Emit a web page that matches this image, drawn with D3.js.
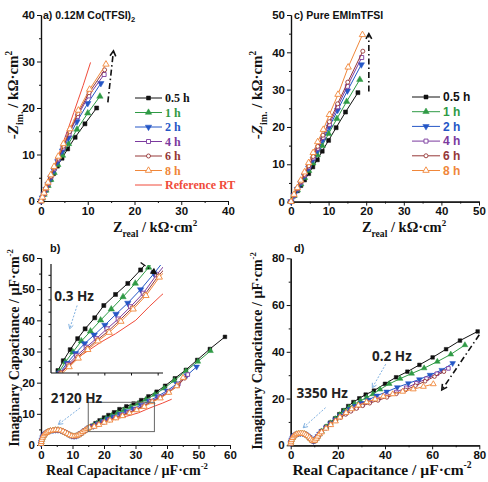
<!DOCTYPE html>
<html>
<head>
<meta charset="utf-8">
<script src="https://cdn.jsdelivr.net/npm/d3@7"></script>
<style>body{margin:0;background:#fff}</style>
</head>
<body>
<script>
const W = 488, H = 482;
const SANS = "'Liberation Sans', Arial, sans-serif";
const SERIF = "'Liberation Serif', 'Times New Roman', serif";

const seriesNames = ["0.5 h", "1 h", "2 h", "4 h", "6 h", "8 h"];
const seriesColors = ["#111111", "#2f9a45", "#2557c6", "#7b3a9e", "#963838", "#f0873a"];
const seriesKinds = ["square", "tri", "tridown", "osquare", "ocircle", "otri"];
const refName = "Reference RT";
const refColor = "#f04b3a";

// a) 0.12M Co(TFSI)2, Nyquist, kOhm cm2
const a_05h = [[0,0],[0.3,0.6],[0.65,1.5],[1.05,2.4],[1.5,3.4],[2.05,4.6],[2.7,5.9],[3.5,7.5],[4.5,9.2],[5.7,11.2],[7.3,13.7],[9.4,16.6],[11.9,20.0]];
const a_1h = [[0,0],[0.3,0.6],[0.65,1.4],[1.05,2.3],[1.5,3.3],[2.1,4.6],[2.8,6.1],[3.6,7.8],[4.6,9.8],[5.9,12.3],[7.7,15.4],[10,18.9],[12.6,22.5]];
const a_2h = [[0,0],[0.3,0.7],[0.65,1.5],[1.05,2.5],[1.5,3.6],[2.1,5],[2.8,6.6],[3.6,8.5],[4.6,10.8],[5.9,13.6],[7.7,17.1],[10,21],[12.8,25.3]];
const a_4h = [[0,0],[0.3,0.7],[0.65,1.6],[1.05,2.6],[1.5,3.7],[2.1,5.2],[2.8,6.9],[3.6,8.9],[4.7,11.4],[6,14.4],[7.8,18.2],[10.2,22.6],[13.5,27.2]];
const a_6h = [[0,0],[0.3,0.7],[0.65,1.6],[1.05,2.7],[1.5,3.8],[2.1,5.3],[2.8,7.1],[3.7,9.2],[4.8,11.8],[6.1,14.9],[7.9,18.8],[10.3,23.3],[13.6,28.2]];
const a_8h = [[0,0],[0.3,0.8],[0.65,1.7],[1.05,2.8],[1.5,4],[2.1,5.6],[2.8,7.4],[3.7,9.6],[4.8,12.3],[6.2,15.5],[8,19.5],[10.4,24],[13.9,29.4]];
const a_ref = [[0,0],[1,2.4],[2,5],[3,7.7],[4,10.5],[5,13.3],[6,16.1],[7,19],[8,21.9],[9,24.8],[10.6,29.8]];

// c) Pure EMImTFSI
const c_05h = [[0,0],[0.8,1.5],[1.7,2.9],[2.6,4.3],[3.6,5.8],[4.7,7.5],[5.8,9.3],[7,11.2],[8.3,13.5],[10,16.4],[12,19.8],[14.5,24],[17.8,29.2]];
const c_1h = [[0,0],[0.8,1.6],[1.7,3.1],[2.6,4.7],[3.6,6.4],[4.7,8.3],[5.8,10.3],[7,12.5],[8.3,15],[10,18.2],[12.2,22.2],[14.8,26.8],[18.3,32.7]];
const c_2h = [[0,0],[0.8,1.7],[1.7,3.3],[2.6,5],[3.6,6.9],[4.7,9],[5.9,11.3],[7.1,13.8],[8.5,16.6],[10.2,20],[12.4,24.5],[15,29.7],[18.7,36.7]];
const c_4h = [[0,0],[0.8,1.7],[1.7,3.4],[2.6,5.2],[3.6,7.1],[4.7,9.3],[5.9,11.7],[7.1,14.3],[8.5,17.2],[10.2,20.7],[12.4,25.4],[15,30.9],[18.8,38.6]];
const c_6h = [[0,0],[0.8,1.8],[1.7,3.5],[2.6,5.3],[3.6,7.3],[4.7,9.6],[5.9,12.1],[7.1,14.8],[8.5,17.8],[10.2,21.4],[12.4,26.2],[15.1,32],[19.1,40.3]];
const c_8h = [[0,0],[0.8,1.9],[1.7,3.7],[2.6,5.7],[3.6,7.9],[4.7,10.4],[5.9,13.1],[7.1,16],[8.6,19.3],[10.2,23.3],[12.5,28.7],[15.2,36],[19,44.7]];

// b) complex capacitance, 0.12M Co(TFSI)2, uF cm-2
const b_arc = [[0,0.4],[0.1,1],[0.25,1.7],[0.5,2.4],[0.8,3],[1.2,3.5],[1.7,3.9],[2.3,4.3],[3,4.55],[3.8,4.7],[4.6,4.8],[5.4,4.8],[6.2,4.7],[7,4.4],[7.7,4],[8.4,3.6],[9.1,3.2],[9.8,2.9],[10.5,2.8],[11.2,2.9],[11.9,3.2],[12.6,3.7],[13.3,4.2],[14,4.7],[14.7,5.2],[15.3,5.6]];
const b_05h = [[16.3,6.2],[17.3,7],[18.6,7.9],[20,8.8],[21.4,9.6],[23.2,10.5],[24.9,11.5],[27.1,12.4],[29.4,13.3],[31.8,14.4],[34.1,15.6],[36.7,17.1],[39.4,19],[42.5,21.4],[46,24.1],[49.6,27.3],[53.6,30.8],[58.4,34.7]];
const b_1h = [[16.5,6.1],[17.7,6.9],[19.1,7.7],[20.7,8.6],[22.4,9.4],[24.3,10.3],[26.3,11.2],[28.5,12.2],[30.8,13.3],[33.3,14.6],[36.1,16.2],[39.1,18.2],[42.3,20.7],[46,23.7],[49.8,26.8],[53.8,30.2]];
const b_2h = [[16.6,6],[18,6.8],[19.6,7.6],[21.3,8.4],[23.1,9.1],[25.1,9.9],[27.2,10.8],[29.4,11.7],[31.8,12.8],[34.3,14.1],[37,15.6],[40,17.4],[43.1,19.6],[46.3,22.3],[49.4,25.1]];
const b_4h = [[16.7,6],[18.2,6.7],[19.8,7.4],[21.6,8.1],[23.5,8.8],[25.5,9.6],[27.6,10.4],[29.9,11.4],[32.3,12.5],[34.8,14],[37.5,15.4],[40.4,17.1],[43.6,19.6],[46.6,22.6]];
const b_6h = [[16.8,6],[18.3,6.6],[20,7.3],[21.8,8],[23.7,8.7],[25.7,9.4],[27.9,10.3],[30.2,11.3],[32.6,12.4],[35.1,13.9],[37.8,15.2],[40.6,16.9],[43.4,19],[45.6,21.4]];
const b_8h = [[16.9,5.9],[18.4,6.5],[20.1,7.2],[21.9,7.9],[23.8,8.6],[25.9,9.3],[28.1,10.2],[30.4,11.2],[32.8,12.3],[35.3,13.8],[37.9,15],[40.6,16.8],[43.1,18.9],[45.1,21.6]];
const b_ref = [[0,0.4],[0.3,1.6],[0.8,2.8],[1.6,3.7],[2.6,4.3],[4,4.6],[5.5,4.6],[7,4.2],[8.5,3.5],[10,3],[11.5,3.4],[13,4.3],[15,5.3],[17,6.1],[20.2,7.3],[24.3,8.5],[27.1,9.2],[30.9,10.3],[33.4,11.4],[35.6,12.3],[38.5,13.4],[41.5,14.7]];

// d) complex capacitance, pure EMImTFSI
const d_arc = [[0,0.8],[0.15,1.6],[0.4,2.4],[0.8,3.2],[1.3,3.9],[1.9,4.4],[2.6,4.8],[3.4,5],[4.2,5.1],[5,5.1],[5.8,4.9],[6.5,4.5],[7.2,4],[7.9,3.4],[8.5,2.7],[9.1,2.1],[9.7,1.8],[10.3,2.1],[10.9,2.9],[11.5,3.8],[12.2,4.8]];
const d_05h = [[13.1,6.1],[15,8],[16.7,9.7],[18.8,11.5],[20.6,13.3],[22.3,15],[24.4,16.8],[26.6,18.5],[29.1,20.1],[31.8,21.7],[35.3,23.4],[40,26.3],[44.7,29.1],[49.5,31.5],[54.6,34.4],[60.2,37.6],[65.9,41.1],[71.8,44.8],[79.3,48.7]];
const d_1h = [[13.1,6],[15,7.8],[16.8,9.5],[18.9,11.3],[20.8,13],[22.6,14.6],[24.7,16.1],[27,17.6],[29.5,19],[32.2,20.4],[34.9,21.9],[37.9,23.9],[41.8,26.3],[46.4,28.5],[51.3,30.7],[56.6,33],[62.2,35.8],[67.9,38.9],[73.9,42.9]];
const d_2h = [[13.1,5.9],[15,7.6],[16.9,9.3],[19,11],[21,12.6],[23,14.1],[25.1,15.5],[27.4,16.8],[29.9,18],[32.9,19.4],[36.5,21.2],[40.7,22.9],[45.2,24.8],[49.9,26.5],[54.6,28.2],[59.1,30.1],[64.1,32.2],[68.7,35.1]];
const d_4h = [[13.1,5.8],[15,7.5],[17,9.1],[19.1,10.7],[21.2,12.2],[23.3,13.6],[25.5,14.9],[27.9,16.1],[30.5,17.3],[33.5,18.5],[37,19.8],[40.8,21.2],[44.8,22.8],[49,24.6],[53.3,26.5],[57.6,28.5],[62,30.6],[66.9,32.9]];
const d_6h = [[13.1,5.8],[15,7.4],[17,9],[19.1,10.5],[21.2,11.9],[23.3,13.2],[25.5,14.5],[27.9,15.7],[30.5,16.9],[33.5,18],[37,19.2],[40.8,20.5],[44.8,22],[48.8,23.7],[52.9,25.5],[57,27.4],[61,29.4],[65,31.5]];
const d_8h = [[13.1,5.6],[15,7.2],[17,8.7],[19,10.3],[20.9,12],[23.5,13.9],[25.9,15.5],[28.7,17.1],[32.2,18.5],[35.8,19.7],[39.3,20.9],[43.3,21.9],[47.5,23],[52,24],[56.3,25.1],[60.5,26.2]];

// tick values
const ticksA = [0,10,20,30,40], minorA = [5,15,25,35];
const ticksC = [0,10,20,30,40,50], minorC = [5,15,25,35,45];
const ticksB = [0,10,20,30,40,50,60], minorB = [5,15,25,35,45,55];
const ticksD = [0,20,40,60,80], minorD = [10,30,50,70];
const insetXTicks = [20,25,30,35], insetYTicks = [7,8,9,10,11,12,13,14];
const zoomBox = [[15,4.3],[36,13.7]];

const svg = d3.select("body").append("svg").attr("width", W).attr("height", H)
  .style("font-family", SANS);

function symbolPath(kind, size) {
  const t = {square: d3.symbolSquare, osquare: d3.symbolSquare, tri: d3.symbolTriangle,
    tridown: d3.symbolTriangle, otri: d3.symbolTriangle, ocircle: d3.symbolCircle}[kind];
  const area = kind.includes("tri") ? size * size * 1.1 : (kind === "ocircle" ? size * size * 0.8 : size * size);
  return d3.symbol().type(t).size(area)();
}

function drawMarker(g, kind, color, size, px, py) {
  const open = kind[0] === "o";
  g.append("path")
    .attr("d", symbolPath(kind, size))
    .attr("transform", `translate(${px},${py})` + (kind === "tridown" ? " rotate(180)" : ""))
    .attr("fill", open ? "#fff" : color)
    .attr("stroke", color)
    .attr("stroke-width", open ? 0.9 : 0.5);
}

function drawSeries(g, x, y, data, kind, color, size, keep) {
  const line = d3.line().x(d => x(d[0])).y(d => y(d[1]));
  g.append("path").attr("d", line(data)).attr("fill", "none")
    .attr("stroke", color).attr("stroke-width", 1);
  if (!kind) return;
  data.filter(keep || (() => true)).forEach(d => drawMarker(g, kind, color, size, x(d[0]), y(d[1])));
}

function styleAxis(sel, size) {
  sel.select(".domain").attr("stroke", "#111").attr("stroke-width", 1.2);
  sel.selectAll(".tick line").attr("stroke", "#111").attr("stroke-width", 1);
  sel.selectAll("text").attr("font-family", SANS).attr("font-weight", "bold")
    .attr("font-size", size).attr("fill", "#111");
}

function axes(g, x, y, ticks, minor, yTicks, yMinor, fs) {
  const y0 = y.range()[0], x0 = x.range()[0];
  g.append("g").attr("transform", `translate(0,${y0})`)
    .call(d3.axisBottom(x).tickValues(minor).tickSize(2).tickSizeOuter(0).tickFormat(""))
    .call(s => styleAxis(s, fs));
  g.append("g").attr("transform", `translate(0,${y0})`)
    .call(d3.axisBottom(x).tickValues(ticks).tickSize(4).tickSizeOuter(0).tickPadding(1.5))
    .call(s => styleAxis(s, fs));
  g.append("g").attr("transform", `translate(${x0},0)`)
    .call(d3.axisLeft(y).tickValues(yMinor).tickSize(2).tickSizeOuter(0).tickFormat(""))
    .call(s => styleAxis(s, fs));
  g.append("g").attr("transform", `translate(${x0},0)`)
    .call(d3.axisLeft(y).tickValues(yTicks).tickSize(4).tickSizeOuter(0).tickPadding(2))
    .call(s => styleAxis(s, fs));
}

// text with sub/superscripts: parts = [[text, "n"|"sub"|"sup"|"it"], ...]
function richText(g, parts, fs, attrs) {
  const t = g.append("text").attr("font-family", SERIF).attr("font-weight", "bold")
    .attr("font-size", fs).attr("fill", "#111");
  Object.entries(attrs).forEach(([k, v]) => t.attr(k, v));
  let shift = 0;
  parts.forEach(([s, mode]) => {
    let target = 0, size = fs;
    if (mode === "sub") { target = fs * 0.32; size = fs * 0.66; }
    if (mode === "sup") { target = -fs * 0.42; size = fs * 0.62; }
    const ts = t.append("tspan").text(s).attr("font-size", size).attr("dy", target - shift);
    if (mode === "it") ts.attr("font-style", "italic");
    shift = target;
  });
  return t;
}

function chevron(g, x1, y1, x2, y2, len, color, width, filled) {
  const a = Math.atan2(y2 - y1, x2 - x1), s = 0.5;
  const p1 = [x2 - len * Math.cos(a - s), y2 - len * Math.sin(a - s)];
  const p2 = [x2 - len * Math.cos(a + s), y2 - len * Math.sin(a + s)];
  g.append("path").attr("d", `M${p1}L${x2},${y2}L${p2}` + (filled ? "Z" : ""))
    .attr("fill", filled ? color : "none").attr("stroke", color).attr("stroke-width", width);
}

function dashArrow(g, x, y, from, to, opts) {
  const x1 = x(from[0]), y1 = y(from[1]), x2 = x(to[0]), y2 = y(to[1]);
  g.append("line").attr("x1", x1).attr("y1", y1).attr("x2", x2).attr("y2", y2)
    .attr("stroke", opts.color).attr("stroke-width", opts.width).attr("stroke-dasharray", opts.dash);
  chevron(g, x1, y1, x2, y2, opts.head, opts.color, opts.width, opts.filled);
}

function annotate(g, x, y, ann) {
  g.append("text").attr("x", x(ann.at[0])).attr("y", y(ann.at[1]))
    .attr("font-family", "'Open Sans', sans-serif").attr("font-weight", "bold")
    .attr("font-size", 13.5).attr("fill", "#222").text(ann.text);
  dashArrow(g, x, y, ann.from, ann.to, {color: "#7fb0e0", width: 1, dash: "2,1.5", head: 5});
}

const blackArrow = {color: "#111", width: 1.6, dash: "6,3,1.5,3", head: 6};

// ---------- panel a ----------
{
  const g = svg.append("g");
  const x = d3.scaleLinear().domain([0, 40]).range([41, 228]);
  const y = d3.scaleLinear().domain([0, 40]).range([201, 15]);
  axes(g, x, y, ticksA, minorA, ticksA, minorA, 11.5);
  const data = [a_05h, a_1h, a_2h, a_4h, a_6h, a_8h];
  drawSeries(g, x, y, a_ref, null, refColor);
  data.forEach((d, i) => drawSeries(g, x, y, d, seriesKinds[i], seriesColors[i], 4));
  dashArrow(g, x, y, [14.3, 21.2], [15.5, 32.3], blackArrow);
  const title = g.append("text").attr("x", 43).attr("y", 19).attr("font-weight", "bold")
    .attr("font-size", 10.5).attr("fill", "#111");
  title.append("tspan").text("a) 0.12M Co(TFSI)");
  title.append("tspan").text("2").attr("font-size", 7.5).attr("dy", 3);
  richText(g, [["-", "n"], ["Z", "it"], ["im.", "sub"], [" / k\u03A9\u00B7cm", "n"], ["2", "sup"]], 15,
    {transform: "translate(18,95) rotate(-90)", "text-anchor": "middle"});
  richText(g, [["Z", "n"], ["real", "sub"], [" / k\u03A9\u00B7cm", "n"], ["2", "sup"]], 14.5,
    {x: 155, y: 232, "text-anchor": "middle"});
  // legend
  const leg = g.append("g");
  const names = seriesNames.concat([refName]);
  names.forEach((n, i) => {
    const ry = 98 + i * 14.5;
    const c = i < 6 ? seriesColors[i] : refColor;
    leg.append("line").attr("x1", 135).attr("x2", 162).attr("y1", ry).attr("y2", ry)
      .attr("stroke", c).attr("stroke-width", 1);
    if (i < 6) drawMarker(leg, seriesKinds[i], c, 4, 148.5, ry);
    leg.append("text").attr("x", 165).attr("y", ry + 4.2).attr("font-family", SERIF)
      .attr("font-weight", "bold").attr("font-size", 12).attr("fill", c).text(n);
  });
}

// ---------- panel c ----------
{
  const g = svg.append("g");
  const x = d3.scaleLinear().domain([0, 50]).range([291, 479]);
  const y = d3.scaleLinear().domain([0, 50]).range([201.6, 15]);
  axes(g, x, y, ticksC, minorC, ticksC, minorC, 11.5);
  const data = [c_05h, c_1h, c_2h, c_4h, c_6h, c_8h];
  data.forEach((d, i) => drawSeries(g, x, y, d, seriesKinds[i], seriesColors[i], 4));
  dashArrow(g, x, y, [20.7, 29.5], [20.7, 45], blackArrow);
  g.append("text").attr("x", 294).attr("y", 19).attr("font-weight", "bold")
    .attr("font-size", 10.5).attr("fill", "#111").text("c) Pure EMImTFSI");
  richText(g, [["-", "n"], ["Z", "it"], ["im.", "sub"], [" / k\u03A9\u00B7cm", "n"], ["2", "sup"]], 15,
    {transform: "translate(262,95) rotate(-90)", "text-anchor": "middle"});
  richText(g, [["Z", "n"], ["real", "sub"], [" / k\u03A9\u00B7cm", "n"], ["2", "sup"]], 14.5,
    {x: 404, y: 232, "text-anchor": "middle"});
  const leg = g.append("g");
  seriesNames.forEach((n, i) => {
    const ry = 97 + i * 14.7;
    leg.append("line").attr("x1", 412).attr("x2", 440).attr("y1", ry).attr("y2", ry)
      .attr("stroke", seriesColors[i]).attr("stroke-width", 1);
    drawMarker(leg, seriesKinds[i], seriesColors[i], 4, 426, ry);
    leg.append("text").attr("x", 443).attr("y", ry + 4.3).attr("font-weight", "bold")
      .attr("font-size", 12).attr("fill", seriesColors[i]).text(n);
  });
}

// ---------- panel b ----------
{
  const g = svg.append("g");
  const x = d3.scaleLinear().domain([0, 60]).range([41, 230]);
  const y = d3.scaleLinear().domain([0, 60]).range([445, 258]);
  axes(g, x, y, ticksB, minorB, ticksB, minorB, 11.5);
  const tails = [b_05h, b_1h, b_2h, b_4h, b_6h, b_8h];
  const full = tails.map(t => b_arc.concat(t));
  drawSeries(g, x, y, b_ref, null, refColor);
  full.forEach((d, i) => drawSeries(g, x, y, d, seriesKinds[i], seriesColors[i], 3.6));
  g.append("rect").attr("x", x(zoomBox[0][0])).attr("y", y(zoomBox[1][1]))
    .attr("width", x(zoomBox[1][0]) - x(zoomBox[0][0])).attr("height", y(zoomBox[0][1]) - y(zoomBox[1][1]))
    .attr("fill", "none").attr("stroke", "#666").attr("stroke-width", 1);
  annotate(g, x, y, {text: "2120 Hz", at: [3.1, 13.5], from: [12.4, 11.9], to: [5.5, 6.6]});
  g.append("text").attr("x", 50).attr("y", 252).attr("font-weight", "bold")
    .attr("font-size", 11).attr("fill", "#111").text("b)");
  richText(g, [["Imaginary Capacitance / \u00B5F\u00B7cm", "n"], ["-2", "sup"]], 14,
    {transform: "translate(19,348) rotate(-90)", "text-anchor": "middle"});
  richText(g, [["Real Capacitance / \u00B5F\u00B7cm", "n"], ["-2", "sup"]], 14,
    {x: 127, y: 475, "text-anchor": "middle"});

  // inset
  const xi = d3.scaleLinear().domain([15, 36]).range([51, 163]);
  const yi = d3.scaleLinear().domain([6, 14.8]).range([373, 265]);
  const ig = g.append("g");
  svg.append("clipPath").attr("id", "insetClip").append("rect")
    .attr("x", 51).attr("y", 265).attr("width", 112).attr("height", 108);
  const plot = ig.append("g").attr("clip-path", "url(#insetClip)");
  const inside = d => d[0] >= 15 && d[0] <= 36.3 && d[1] >= 5.8 && d[1] <= 14.9;
  drawSeries(plot, xi, yi, b_ref, null, refColor);
  full.forEach((d, i) => drawSeries(plot, xi, yi, d, seriesKinds[i], seriesColors[i], 4, inside));
  ig.append("g").attr("transform", "translate(0,373)")
    .call(d3.axisBottom(xi).tickValues(insetXTicks).tickSize(2.5).tickFormat(""))
    .call(s => styleAxis(s, 10)).select(".domain").attr("d", "M51,0H163");
  ig.append("g").attr("transform", "translate(51,0)")
    .call(d3.axisLeft(yi).tickValues(insetYTicks).tickSize(2.5).tickFormat(""))
    .call(s => styleAxis(s, 10)).select(".domain").attr("d", "M0,373V264");
  annotate(ig, xi, yi, {text: "0.3 Hz", at: [15.6, 11.9], from: [19.9, 11.5], to: [18.5, 9.6]});
  dashArrow(ig, xi, yi, [31.8, 15.0], [34.7, 14.1], Object.assign({}, blackArrow, {width: 1.4, head: 5, filled: true}));
}

// ---------- panel d ----------
{
  const g = svg.append("g");
  const x = d3.scaleLinear().domain([0, 80]).range([290.7, 479.3]);
  const y = d3.scaleLinear().domain([0, 80]).range([445.3, 258.3]);
  axes(g, x, y, ticksD, minorD, ticksD, minorD, 11.5);
  const tails = [d_05h, d_1h, d_2h, d_4h, d_6h, d_8h];
  tails.forEach((t, i) => drawSeries(g, x, y, d_arc.concat(t), seriesKinds[i], seriesColors[i], 3.6));
  annotate(g, x, y, {text: "0.2 Hz", at: [34.5, 36.1], from: [40.3, 34.7], to: [34.6, 24.6]});
  annotate(g, x, y, {text: "3350 Hz", at: [2.5, 20.4], from: [14.8, 16.1], to: [5.3, 7.5]});
  dashArrow(g, x, y, [80, 47.3], [64.1, 23.7], blackArrow);
  g.append("text").attr("x", 294).attr("y", 252).attr("font-weight", "bold")
    .attr("font-size", 11).attr("fill", "#111").text("d)");
  richText(g, [["Imaginary Capacitance / \u00B5F\u00B7cm", "n"], ["-2", "sup"]], 14,
    {transform: "translate(262,351) rotate(-90)", "text-anchor": "middle"});
  richText(g, [["Real Capacitance / \u00B5F\u00B7cm", "n"], ["-2", "sup"]], 15.5,
    {x: 382, y: 475, "text-anchor": "middle"});
}
</script>
</body>
</html>
